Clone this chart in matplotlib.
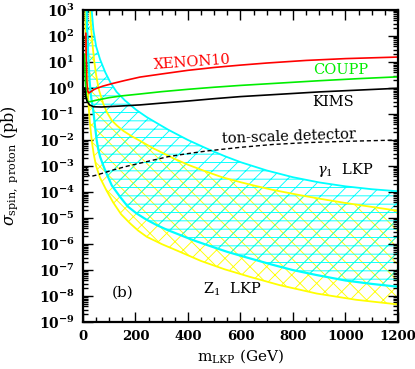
import numpy as np
import matplotlib
matplotlib.use('Agg')
import matplotlib.pyplot as plt
from matplotlib.ticker import LogLocator, MultipleLocator, FixedLocator

plt.rcParams['font.family'] = 'DejaVu Serif'
plt.rcParams['mathtext.fontset'] = 'dejavuserif'
plt.rcParams['hatch.linewidth'] = 0.65

# all cross sections given as log10(sigma / pb), masses in GeV
m_xenon = [11, 12, 14, 17, 22, 30, 40, 50, 75, 115, 160, 217, 300, 400, 500, 600, 700, 850, 1000, 1200]
e_xenon = [2.1, 1.2, 0.3, -0.1, -0.19, -0.14, -0.07, -0.02, 0.07, 0.18, 0.29, 0.42, 0.54, 0.68,
           0.79, 0.88, 0.96, 1.06, 1.13, 1.19]

m_coupp = [5, 8, 12, 16, 25, 50, 100, 150, 217, 300, 400, 500, 600, 750, 900, 1050, 1200]
e_coupp = [1.3, 0.5, -0.3, -0.5, -0.53, -0.47, -0.37, -0.3, -0.23, -0.14, -0.05, 0.03, 0.1,
           0.19, 0.28, 0.36, 0.43]

m_kims = [7, 10, 15, 25, 40, 70, 130, 217, 300, 400, 500, 600, 750, 900, 1050, 1200]
e_kims = [0.0, -0.3, -0.5, -0.65, -0.72, -0.73, -0.7, -0.65, -0.58, -0.5, -0.41, -0.33, -0.24,
          -0.15, -0.08, -0.01]

m_ton = [12, 15, 22, 30, 50, 80, 115, 170, 243, 324, 400, 472, 600, 724, 850, 1000, 1200]
e_ton = [-3.0, -3.25, -3.37, -3.4, -3.35, -3.26, -3.15, -3.0, -2.83, -2.64, -2.52, -2.42, -2.28,
         -2.17, -2.1, -2.05, -2.0]

# gamma_1 LKP band
m_g_up = [28, 33, 40, 50, 65, 85, 105, 128, 160, 204, 243, 290, 324, 400, 472, 540, 600, 700,
          800, 900, 1000, 1100, 1200]
e_g_up = [4, 3, 2.2, 1.6, 1.1, 0.6, 0.2, -0.15, -0.48, -0.85, -1.12, -1.4, -1.6, -2.0, -2.33,
          -2.62, -2.85, -3.17, -3.43, -3.63, -3.78, -3.89, -3.97]
m_g_lo = [12, 15, 20, 25, 30, 35, 39, 45, 52, 58, 65, 78, 90, 110, 141, 170, 204, 240, 281, 320,
          370, 420, 471, 550, 636, 724, 800, 890, 1000, 1100, 1200]
e_g_lo = [4, 2.5, 1.2, 0.3, -0.3, -0.6, -0.85, -1.4, -2.0, -2.35, -2.64, -3.0, -3.3, -3.75, -4.18,
          -4.55, -4.82, -5.05, -5.27, -5.45, -5.65, -5.85, -6.03, -6.3, -6.55, -6.8, -7.0, -7.19,
          -7.4, -7.53, -7.64]

# Z_1 LKP band
m_z_up = [22, 27, 31, 35, 42, 50, 60, 77, 92, 110, 130, 154, 185, 217, 270, 344, 400, 471, 530,
          600, 660, 725, 827, 910, 1000, 1100, 1200]
e_z_up = [4, 3, 2.3, 1.8, 1.1, 0.5, -0.05, -0.6, -0.95, -1.25, -1.45, -1.65, -1.85, -2.03, -2.33,
          -2.7, -2.95, -3.22, -3.43, -3.62, -3.77, -3.92, -4.12, -4.27, -4.42, -4.57, -4.72]
m_z_lo = [8, 10, 13, 15, 20, 26, 33, 41, 50, 65, 90, 115, 145, 179, 210, 243, 300, 370, 450, 540,
          636, 750, 890, 1040, 1200]
e_z_lo = [4, 2, 1.0, 0.5, -0.5, -1.3, -2.0, -2.55, -3.0, -3.45, -3.95, -4.4, -4.85, -5.2, -5.48,
          -5.72, -6.0, -6.3, -6.65, -6.97, -7.26, -7.58, -7.9, -8.14, -8.32]

yticks = list(range(-9, 4))
xticks = [0, 200, 400, 600, 800, 1000, 1200]

fig = plt.figure(figsize=(4.15, 3.69), dpi=100)
ax = fig.add_axes([0.2, 0.127, 0.759, 0.846])

p = lambda e: 10.0 ** np.asarray(e, dtype=float)

# bands as closed polygons: upper edge, then lower edge reversed
ax.fill(np.concatenate([m_z_up, m_z_lo[::-1]]), p(e_z_up + e_z_lo[::-1]),
        facecolor='none', edgecolor='#ffff00', hatch='xx', linewidth=0)
ax.fill(np.concatenate([m_g_up, m_g_lo[::-1]]), p(e_g_up + e_g_lo[::-1]),
        facecolor='none', edgecolor='#00ffff', hatch='--//', linewidth=0)

ax.plot(m_z_up, p(e_z_up), color='#ffff00', lw=1.3)
ax.plot(m_z_lo, p(e_z_lo), color='#ffff00', lw=1.3)
ax.plot(m_g_up, p(e_g_up), color='#00ffff', lw=1.3)
ax.plot(m_g_lo, p(e_g_lo), color='#00ffff', lw=1.6)

ax.plot(m_xenon, p(e_xenon), color='#ff0000', lw=1.2)
ax.plot(m_coupp, p(e_coupp), color='#00ee00', lw=1.2)
ax.plot(m_kims, p(e_kims), color='black', lw=1.2)
ax.plot(m_ton, p(e_ton), color='black', lw=1.0, ls=(0, (3, 2)))

ax.set_yscale('log')
ax.set_xlim(0, 1200)
ax.set_ylim(1e-9, 1e3)

ax.xaxis.set_major_locator(FixedLocator(xticks))
ax.xaxis.set_minor_locator(MultipleLocator(50))
ax.yaxis.set_major_locator(FixedLocator(p(yticks)))
ax.yaxis.set_minor_locator(LogLocator(base=10, subs=np.arange(2, 10), numticks=30))
ax.set_yticklabels([r'$\mathbf{10^{%d}}$' % k for k in yticks])
ax.set_xticklabels([str(v) for v in xticks], fontweight='bold')
ax.tick_params(which='both', direction='in', top=True, right=True, width=1.0, pad=6)
ax.tick_params(axis='y', labelsize=10)
ax.tick_params(axis='x', labelsize=9.5)
ax.tick_params(which='major', length=7)
ax.tick_params(which='minor', length=3.5)
for s in ax.spines.values():
    s.set_linewidth(1.6)

ax.set_xlabel(r'$\mathrm{m_{LKP}}$ (GeV)', fontsize=11, labelpad=3)
ax.set_ylabel(r'$\sigma_{\mathrm{spin,\ proton}}$ (pb)', fontsize=11.5)
ax.yaxis.set_label_coords(-0.2, 0.503)

tk = dict(transform=ax.transAxes, ha='center', va='center', fontsize=10.5)
ax.text(0.346, 0.833, 'XENON10', color='#ff0000', rotation=4, **tk)
ax.text(0.819, 0.808, 'COUPP', color='#00ee00', **tk)
ax.text(0.793, 0.705, 'KIMS', color='black', **tk)
ax.text(0.654, 0.593, 'ton-scale detector', color='black', rotation=2, **tk)
ax.text(0.832, 0.487, r'$\gamma_1$  LKP', color='black', **tk)
ax.text(0.473, 0.106, r'$\mathrm{Z_1}$  LKP', color='black', **tk)
ax.text(0.127, 0.096, '(b)', color='black', fontsize=11, transform=ax.transAxes,
        ha='center', va='center')

fig.savefig('out.png', dpi=100)
